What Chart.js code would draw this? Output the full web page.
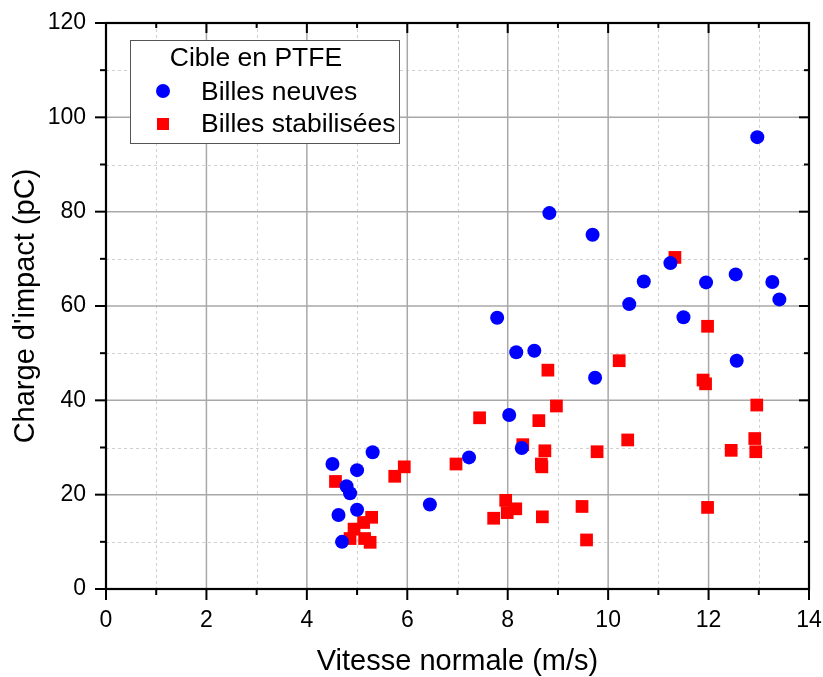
<!DOCTYPE html>
<html>
<head>
<meta charset="utf-8">
<script src="https://cdn.jsdelivr.net/npm/chart.js@4"></script>
<style>
  html, body { margin: 0; padding: 0; background: #fff; }
  #wrap { width: 823px; height: 677px; }
</style>
</head>
<body>
<div id="wrap"><canvas id="scatter" width="823" height="677"></canvas></div>
<script>
// Billes neuves (blue circles)
var neuvesX = [4.51, 4.79, 4.86, 5.0, 5.31, 4.63, 5.0, 4.70, 6.45, 7.23, 8.03, 8.28, 8.17, 8.53,
  9.74, 12.56, 7.79, 8.83, 9.69, 10.42, 10.71, 11.24, 11.50, 11.95, 12.54, 12.97, 13.27, 13.41];
var neuvesY = [26.5, 21.8, 20.3, 25.2, 29.0, 15.7, 16.8, 10.0, 17.9, 27.9, 36.9, 29.9, 50.2, 50.5,
  44.8, 48.4, 57.5, 79.7, 75.1, 60.4, 65.2, 69.1, 57.6, 65.0, 66.7, 95.8, 65.1, 61.4];

// Billes stabilisées (red squares)
var stabX = [4.57, 5.75, 5.94, 4.86, 4.94, 5.13, 5.29, 5.15, 5.26, 6.97, 7.44, 7.72, 7.96, 7.99,
  8.16, 8.30, 8.62, 8.80, 8.97, 8.74, 8.67, 8.68, 8.69, 9.48, 9.57, 9.78, 10.22, 10.39, 11.89,
  11.94, 11.98, 12.45, 12.92, 12.94, 12.96, 11.33, 11.98];
var stabY = [22.8, 23.9, 25.9, 10.7, 12.7, 14.1, 15.2, 10.7, 9.9, 26.5, 36.3, 15.0, 18.8, 16.2,
  17.0, 30.6, 35.7, 46.4, 38.8, 29.3, 26.5, 25.9, 15.3, 17.5, 10.4, 29.1, 48.4, 31.6, 44.3,
  43.5, 17.3, 29.4, 31.9, 29.1, 39.0, 70.3, 55.7];

var xTicks = [0, 2, 4, 6, 8, 10, 12, 14];
var yTicks = [0, 20, 40, 60, 80, 100, 120];
var xMinor = [1, 3, 5, 7, 9, 11, 13];
var yMinor = [10, 30, 50, 70, 90, 110];

var legendTitle = "Cible en PTFE";
var seriesNames = ["Billes neuves", "Billes stabilisées"];

function toPoints(xs, ys) {
  return xs.map(function (x, i) { return { x: x, y: ys[i] }; });
}

var FONT = "'Liberation Sans', Arial, sans-serif";

var framePlugin = {
  id: "frame",
  beforeDatasetsDraw: function (chart) {
    var c = chart.ctx, a = chart.chartArea;
    var xs = chart.scales.x, ys = chart.scales.y;
    c.save();
    // minor dashed grid
    c.strokeStyle = "#d0d0d0";
    c.lineWidth = 1;
    c.setLineDash([3, 3]);
    xMinor.forEach(function (v) {
      var p = Math.round(xs.getPixelForValue(v)) + 0.5;
      c.beginPath(); c.moveTo(p, a.top); c.lineTo(p, a.bottom); c.stroke();
    });
    yMinor.forEach(function (v) {
      var p = Math.round(ys.getPixelForValue(v)) + 0.5;
      c.beginPath(); c.moveTo(a.left, p); c.lineTo(a.right, p); c.stroke();
    });
    // major grid
    c.setLineDash([]);
    c.strokeStyle = "#a8a8a8";
    c.lineWidth = 1.5;
    xTicks.forEach(function (v) {
      var p = xs.getPixelForValue(v);
      c.beginPath(); c.moveTo(p, a.top); c.lineTo(p, a.bottom); c.stroke();
    });
    yTicks.forEach(function (v) {
      var p = ys.getPixelForValue(v);
      c.beginPath(); c.moveTo(a.left, p); c.lineTo(a.right, p); c.stroke();
    });
    c.restore();
  },
  afterDatasetsDraw: function (chart) {
    var c = chart.ctx, a = chart.chartArea;
    var xs = chart.scales.x, ys = chart.scales.y;
    c.save();
    // frame
    c.strokeStyle = "#000";
    c.lineWidth = 2.2;
    c.strokeRect(a.left, a.top, a.right - a.left, a.bottom - a.top);
    // ticks
    c.lineWidth = 2;
    xTicks.forEach(function (v) {
      var p = xs.getPixelForValue(v);
      c.beginPath(); c.moveTo(p, a.bottom); c.lineTo(p, a.bottom + 11); c.stroke();
      c.beginPath(); c.moveTo(p, a.top); c.lineTo(p, a.top + 10); c.stroke();
    });
    xMinor.forEach(function (v) {
      var p = xs.getPixelForValue(v);
      c.beginPath(); c.moveTo(p, a.bottom); c.lineTo(p, a.bottom + 6); c.stroke();
      c.beginPath(); c.moveTo(p, a.top); c.lineTo(p, a.top + 5); c.stroke();
    });
    yTicks.forEach(function (v) {
      var p = ys.getPixelForValue(v);
      c.beginPath(); c.moveTo(a.left - 11, p); c.lineTo(a.left, p); c.stroke();
      c.beginPath(); c.moveTo(a.right - 10, p); c.lineTo(a.right, p); c.stroke();
    });
    yMinor.forEach(function (v) {
      var p = ys.getPixelForValue(v);
      c.beginPath(); c.moveTo(a.left - 6, p); c.lineTo(a.left, p); c.stroke();
      c.beginPath(); c.moveTo(a.right - 5, p); c.lineTo(a.right, p); c.stroke();
    });

    // legend box
    var bx = 130, by = 40, bw = 269, bh = 103;
    c.fillStyle = "#fff";
    c.fillRect(bx, by, bw, bh);
    c.strokeStyle = "#555";
    c.lineWidth = 1;
    c.strokeRect(bx + 0.5, by + 0.5, bw, bh);
    c.fillStyle = "#000";
    c.font = "26.5px " + FONT;
    c.textBaseline = "alphabetic";
    c.textAlign = "center";
    c.fillText(legendTitle, 256, 66);
    c.textAlign = "left";
    c.fillText(seriesNames[0], 201, 100);
    c.fillText(seriesNames[1], 201, 132);
    c.fillStyle = "#0000ff";
    c.beginPath(); c.arc(163, 91, 7, 0, Math.PI * 2); c.fill();
    c.fillStyle = "#ff0000";
    c.fillRect(157, 118, 12, 12);
    c.restore();
  }
};

var ctx = document.getElementById("scatter").getContext("2d");
var chart = new Chart(ctx, {
  type: "scatter",
  data: {
    datasets: [
      {
        label: seriesNames[0],
        data: toPoints(neuvesX, neuvesY),
        pointStyle: "circle",
        pointRadius: 7,
        pointHoverRadius: 7,
        backgroundColor: "#0000ff",
        borderColor: "#0000ff",
        borderWidth: 0,
      },
      {
        label: seriesNames[1],
        data: toPoints(stabX, stabY),
        pointStyle: "rect",
        pointRadius: 9,
        pointHoverRadius: 9,
        backgroundColor: "#ff0000",
        borderColor: "#ff0000",
        borderWidth: 0,
      },
    ],
  },
  options: {
    responsive: false,
    animation: false,
    events: [],
    layout: { padding: { top: 23, right: 14, left: 0, bottom: 0 } },
    plugins: {
      legend: { display: false },
      tooltip: { enabled: false },
    },
    scales: {
      x: {
        type: "linear",
        min: 0,
        max: 14,
        afterFit: function (s) { s.height = 88; s.paddingLeft = 0; s.paddingRight = 0; },
        afterBuildTicks: function (s) { s.ticks = xTicks.map(function (v) { return { value: v }; }); },
        grid: { display: false },
        border: { display: false },
        ticks: { color: "#000", font: { family: FONT, size: 23 }, padding: 10, maxRotation: 0 },
        title: {
          display: true,
          text: "Vitesse normale (m/s)",
          color: "#000",
          font: { family: FONT, size: 29, lineHeight: 1 },
          padding: { top: 0, bottom: 1 },
        },
      },
      y: {
        type: "linear",
        min: 0,
        max: 120,
        afterFit: function (s) { s.width = 106; s.paddingTop = 0; s.paddingBottom = 0; },
        afterBuildTicks: function (s) { s.ticks = yTicks.map(function (v) { return { value: v }; }); },
        grid: { display: false },
        border: { display: false },
        ticks: { color: "#000", font: { family: FONT, size: 23 }, padding: 12 },
        title: {
          display: true,
          text: "Charge d'impact (pC)",
          color: "#000",
          font: { family: FONT, size: 29, lineHeight: 1 },
          padding: { top: 11, bottom: 0 },
        },
      },
    },
  },
  plugins: [framePlugin],
});
</script>
</body>
</html>
